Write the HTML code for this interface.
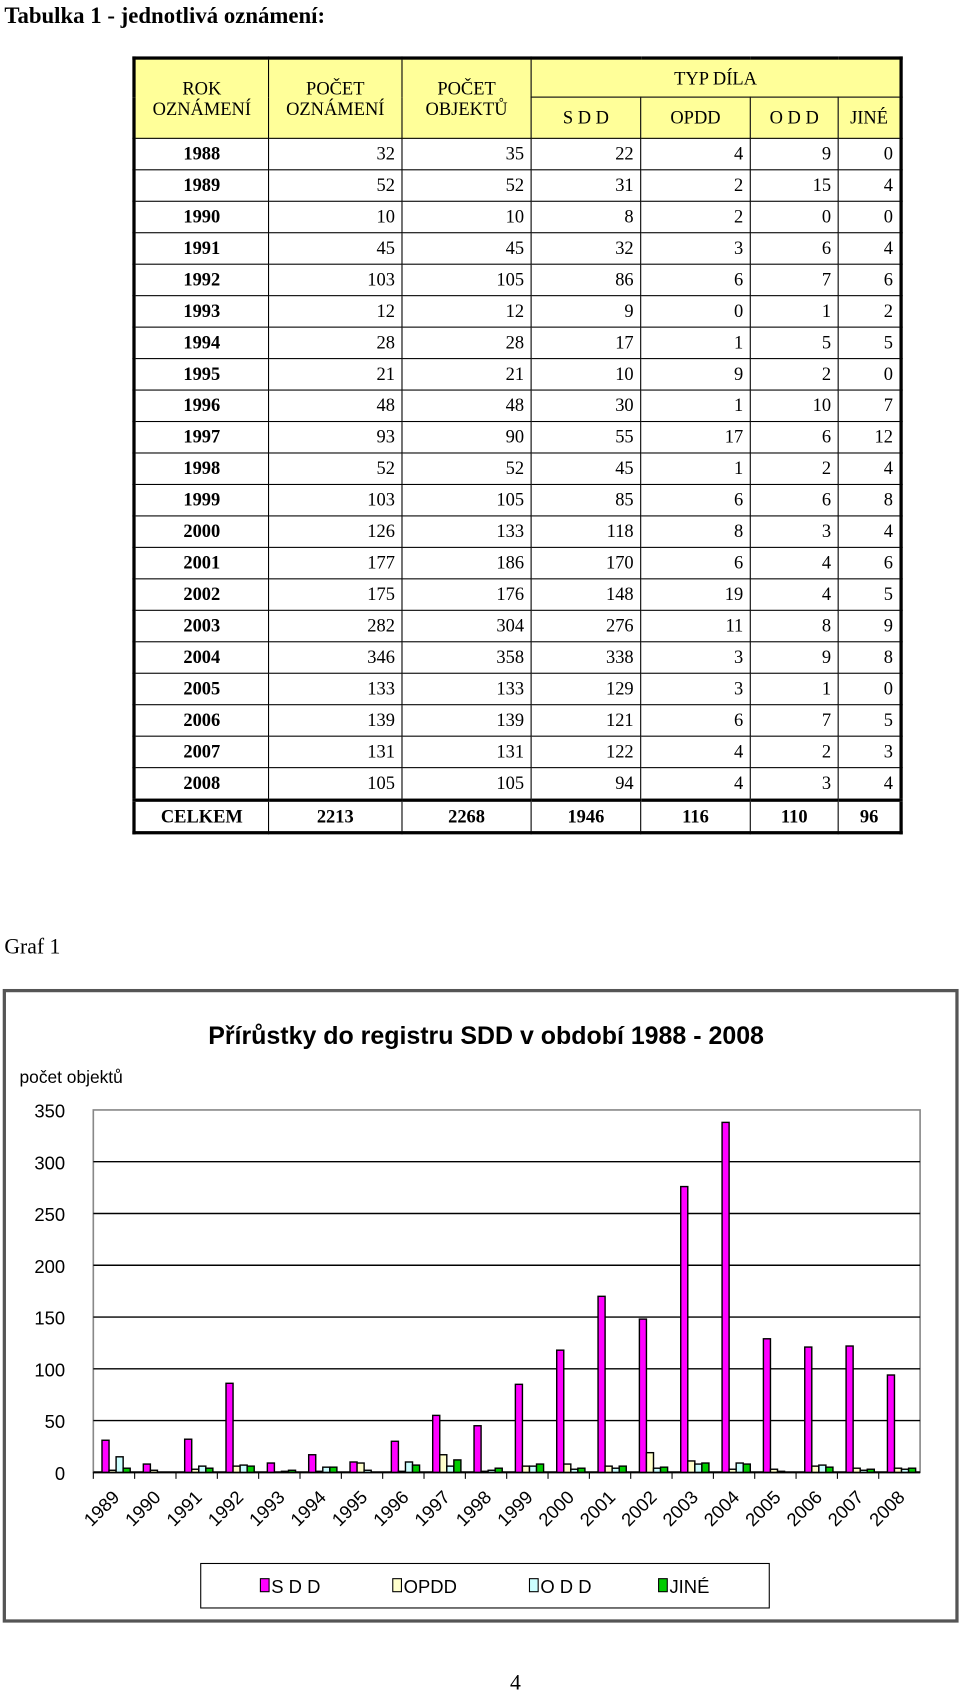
<!DOCTYPE html>
<html><head><meta charset="utf-8">
<style>
body{margin:0;width:960px;height:1704px;background:#fff;position:relative;font-family:"Liberation Serif",serif;overflow:hidden}
#wrap{position:absolute;left:0;top:0;width:885px;height:1571px;transform:scale(1.085);transform-origin:0 0}
#t1{position:absolute;left:4px;top:2px;font-size:21px;font-weight:bold}
table{position:absolute;left:122px;top:52px;border-collapse:collapse;border:3px solid #000;font-size:17px}
td,th{border:1px solid #000;padding:0 6px;height:28px;text-align:right;font-weight:normal}
th{background:#ffff99;text-align:center;line-height:19px}
td.y{text-align:center;font-weight:bold}
tr.tot td{font-weight:bold;text-align:center;border-top:3px solid #000;height:27px}
#g1{position:absolute;left:4px;top:862px;font-size:20px}
#pg{position:absolute;left:470px;top:1540px;font-size:20px}
</style></head><body>
<div id="wrap">
<div id="t1">Tabulka 1 - jednotlivá oznámení:</div>
<table>
<tr style="height:36px"><th rowspan="2" style="width:110px">ROK<br>OZNÁMENÍ</th><th rowspan="2" style="width:110px">POČET<br>OZNÁMENÍ</th><th rowspan="2" style="width:106px">POČET<br>OBJEKTŮ</th><th colspan="4">TYP DÍLA</th></tr>
<tr style="height:38px"><th style="width:88px">S D D</th><th style="width:88px">OPDD</th><th style="width:68px">O D D</th><th style="width:44px">JINÉ</th></tr>
<tbody id="tb"></tbody>
</table>
<div id="g1">Graf 1</div>
<svg style="position:absolute;left:0;top:0" width="885" height="1571" id="ch"></svg>
<div id="pg">4</div>
</div>
<script>
const rows=[[1988,32,35,22,4,9,0],[1989,52,52,31,2,15,4],[1990,10,10,8,2,0,0],[1991,45,45,32,3,6,4],[1992,103,105,86,6,7,6],[1993,12,12,9,0,1,2],[1994,28,28,17,1,5,5],[1995,21,21,10,9,2,0],[1996,48,48,30,1,10,7],[1997,93,90,55,17,6,12],[1998,52,52,45,1,2,4],[1999,103,105,85,6,6,8],[2000,126,133,118,8,3,4],[2001,177,186,170,6,4,6],[2002,175,176,148,19,4,5],[2003,282,304,276,11,8,9],[2004,346,358,338,3,9,8],[2005,133,133,129,3,1,0],[2006,139,139,121,6,7,5],[2007,131,131,122,4,2,3],[2008,105,105,94,4,3,4]];
const tb=document.getElementById('tb');
rows.forEach(r=>{const tr=document.createElement('tr');


tr.innerHTML=r.map((v,i)=>'<td'+(i==0?' class="y"':'')+'>'+v+'</td>').join('');tb.appendChild(tr);});
const tot=document.createElement('tr');tot.className='tot';


tot.innerHTML='<td>CELKEM</td><td>2213</td><td>2268</td><td>1946</td><td>116</td><td>110</td><td>96</td>';tb.appendChild(tot);

const categories=['1989','1990','1991','1992','1993','1994','1995','1996','1997','1998','1999','2000','2001','2002','2003','2004','2005','2006','2007','2008'];
const sdd=[31,8,32,86,9,17,10,30,55,45,85,118,170,148,276,338,129,121,122,94];
const opdd=[2,2,3,6,0,1,9,1,17,1,6,8,6,19,11,3,3,6,4,4];
const odd=[15,0,6,7,1,5,2,10,6,2,6,3,4,4,8,9,1,7,2,3];
const jine=[4,0,4,6,2,5,0,7,12,4,8,4,6,5,9,8,0,5,3,4];
const yTicks=[0,50,100,150,200,250,300,350];
const series=[[sdd,'#ff00ff','sdd'],[opdd,'#ffffcc','opdd'],[odd,'#ccffff','odd'],[jine,'#00cc00','jine']];
const NS='http://www.w3.org/2000/svg',svg=document.getElementById('ch');
const X0=86,X1=848,Y0=1357,Y1=1023;
const y=v=>Y0-(v/350)*(Y0-Y1);
const gw=(X1-X0)/categories.length;
const x=i=>X0+i*gw;
function el(t,a,p){const e=document.createElementNS(NS,t);for(const k in a)e.setAttribute(k,a[k]);(p||svg).appendChild(e);return e;}
let e=el('rect',{x:4,y:913,width:878,height:581,fill:'#fff',stroke:'#555','stroke-width':3});


e=el('text',{x:448,y:962,'text-anchor':'middle','font-family':'Liberation Sans, sans-serif','font-size':23,'font-weight':'bold'});e.textContent='Přírůstky do registru SDD v období 1988 - 2008';


e=el('text',{x:18,y:998,'font-family':'Liberation Sans, sans-serif','font-size':16});e.textContent='počet objektů';


e=el('rect',{x:X0,y:Y1,width:X1-X0,height:Y0-Y1,fill:'none',stroke:'#888','stroke-width':1.5});


yTicks.forEach(t=>{
 if(t>0&&t<350){const l=el('line',{x1:X0,x2:X1,y1:y(t),y2:y(t),stroke:'#000','stroke-width':1.3});
 
 }
 const tx=el('text',{x:60,y:y(t)+7,'text-anchor':'end','font-family':'Liberation Sans, sans-serif','font-size':17});tx.textContent=t;
 
 
});
e=el('line',{x1:X0,x2:X1,y1:Y0,y2:Y0,stroke:'#000','stroke-width':2});


const bw=6.5;
categories.forEach((c,i)=>{
 const tk=el('line',{x1:x(i),x2:x(i),y1:Y0,y2:Y0+6,stroke:'#000'});
 
 
 series.forEach((s,j)=>{const v=s[0][i];
  const b=el('rect',{x:x(i)+8+j*bw,y:y(v),width:bw,height:Y0-y(v),fill:s[1],stroke:'#000','stroke-width':1.3});
  
  
 });
 const cx=x(i)+gw/2+6,cy=Y0+24;
 const t=el('text',{x:cx,y:cy,'text-anchor':'end','font-family':'Liberation Sans, sans-serif','font-size':17,transform:'rotate(-45 '+cx+' '+cy+')'});t.textContent=c;
 
 
});
e=el('rect',{x:185,y:1441,width:524,height:41,fill:'#fff',stroke:'#000','stroke-width':1});


const legendLabels=['S D D','OPDD','O D D','JINÉ'],lx=[240,362,488,607];
series.forEach((s,j)=>{
 const r=el('rect',{x:lx[j],y:1455,width:8,height:12,fill:s[1],stroke:'#000'});
 
 
 const t=el('text',{x:lx[j]+10,y:1468,'font-family':'Liberation Sans, sans-serif','font-size':17});t.textContent=legendLabels[j];
 
 
});
</script>
</body></html>
